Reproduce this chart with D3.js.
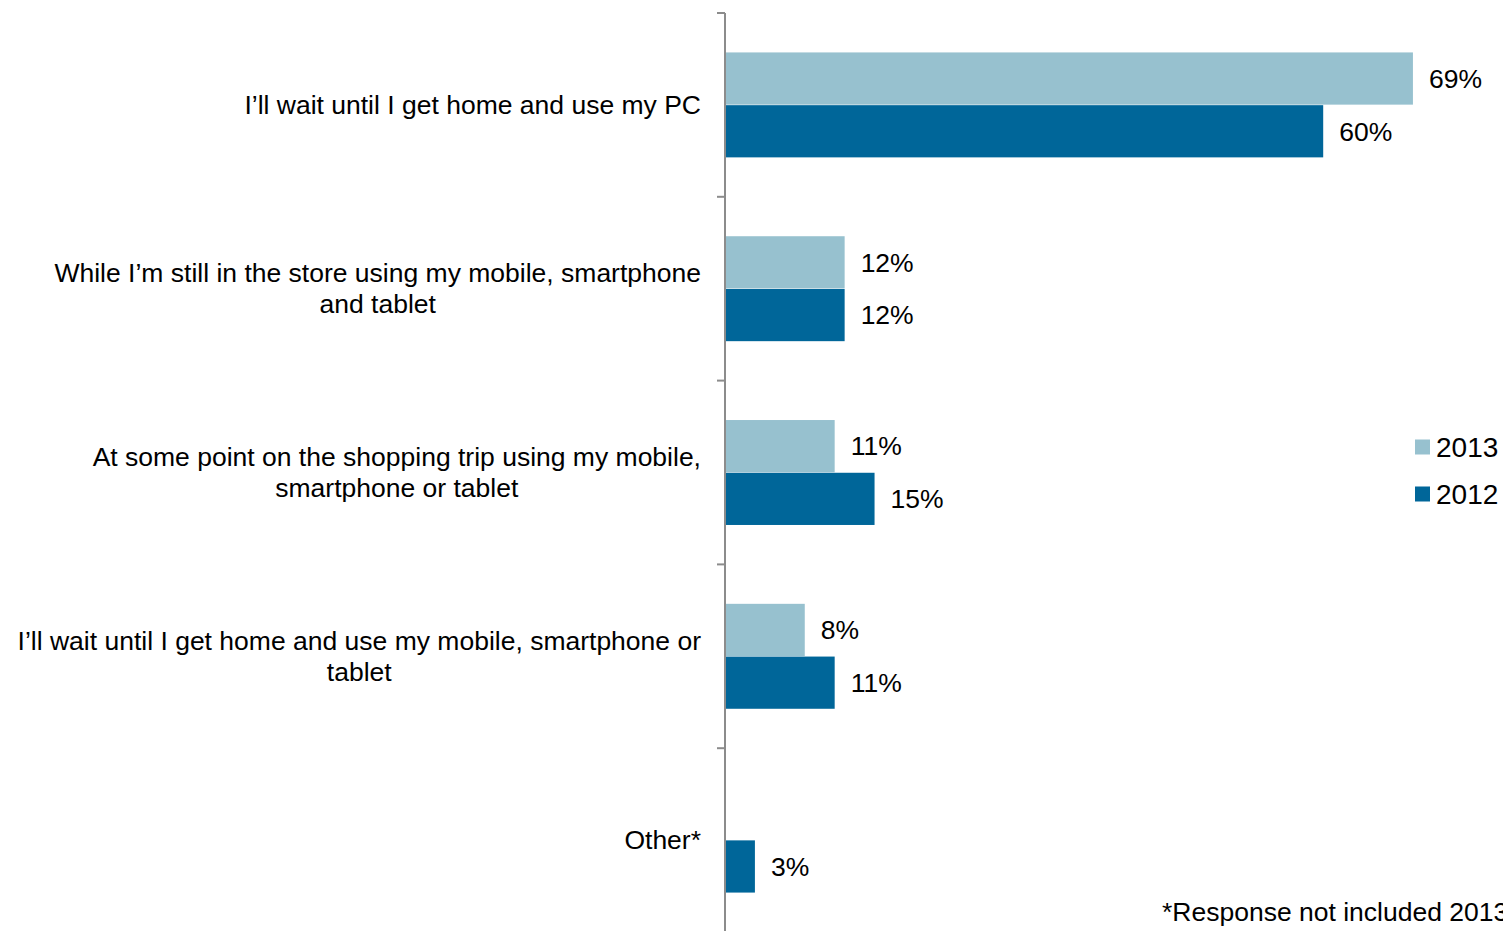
<!DOCTYPE html>
<html>
<head>
<meta charset="utf-8">
<script src="https://cdn.jsdelivr.net/npm/d3@7"></script>
<style>
  html, body { margin: 0; padding: 0; background: #fff; overflow: hidden; }
  svg { display: block; font-family: "Liberation Sans", Arial, sans-serif; }
</style>
</head>
<body>
<svg id="chart" width="1503" height="931"></svg>
<script>
// Survey responses by year
const categories = [
  ["I\u2019ll wait until I get home and use my PC"],
  ["While I\u2019m still in the store using my mobile, smartphone", "and tablet"],
  ["At some point on the shopping trip using my mobile,", "smartphone or tablet"],
  ["I\u2019ll wait until I get home and use my mobile, smartphone or", "tablet"],
  ["Other*"]
];
const seriesNames = ["2013", "2012"];
const values2013 = [69, 12, 11, 8, null];
const values2012 = [60, 12, 15, 11, 3];
const footnote = "*Response not included 2013";

const colors = { "2013": "#97c1cf", "2012": "#006699" };
const series = { "2013": values2013, "2012": values2012 };

const svg = d3.select("#chart");
const axisX = 725;

const y = d3.scaleBand()
  .domain(d3.range(categories.length))
  .range([13, 932])
  .paddingInner(0)
  .paddingOuter(0);

const ySub = d3.scaleBand()
  .domain(seriesNames)
  .range([y.bandwidth() / 2 - 53, y.bandwidth() / 2 + 53])
  .padding(0.01);

const x = d3.scaleLinear().domain([0, 70]).range([axisX, axisX + 70 * 9.97]);

// Bars
const groups = svg.append("g").selectAll("g")
  .data(categories.map((c, i) => i))
  .join("g")
  .attr("transform", i => `translate(0,${y(i)})`);

seriesNames.forEach(name => {
  groups.filter(i => series[name][i] != null)
    .append("rect")
    .attr("x", x(0))
    .attr("y", ySub(name))
    .attr("width", i => x(series[name][i]) - x(0))
    .attr("height", ySub.bandwidth())
    .attr("fill", colors[name]);

  groups.filter(i => series[name][i] != null)
    .append("text")
    .attr("x", i => x(series[name][i]) + 16)
    .attr("y", ySub(name) + ySub.bandwidth() / 2)
    .attr("dy", "0.35em")
    .attr("font-size", 26.5)
    .attr("fill", "#000")
    .text(i => series[name][i] + "%");
});

// Category axis
const axis = svg.append("g");
axis.append("line")
  .attr("x1", axisX).attr("x2", axisX)
  .attr("y1", y.range()[0]).attr("y2", y.range()[1])
  .attr("stroke", "#8c8c8c").attr("stroke-width", 2);
const tickYs = d3.range(categories.length + 1).map(i => y.range()[0] + i * y.step());
axis.selectAll(".tick").data(tickYs).join("line")
  .attr("x1", axisX - 8).attr("x2", axisX)
  .attr("y1", d => d).attr("y2", d => d)
  .attr("stroke", "#8c8c8c").attr("stroke-width", 2);

// Category labels: centered lines, block right-aligned to the axis
const lineH = 31;
categories.forEach((lines, i) => {
  const cy = y(i) + y.bandwidth() / 2;
  const t = svg.append("text")
    .attr("font-size", 26.5)
    .attr("fill", "#000")
    .attr("text-anchor", "middle");
  const spans = lines.map((ln, k) => t.append("tspan")
    .attr("y", cy + (k - (lines.length - 1) / 2) * lineH)
    .attr("dy", "0.35em")
    .text(ln));
  const maxW = d3.max(spans, s => s.node().getComputedTextLength());
  spans.forEach(s => s.attr("x", 701 - maxW / 2));
});

// Legend
const legend = svg.append("g");
seriesNames.forEach((name, k) => {
  const ly = 447 + k * 47;
  legend.append("rect")
    .attr("x", 1415).attr("y", ly - 7.5)
    .attr("width", 15).attr("height", 15)
    .attr("fill", colors[name]);
  legend.append("text")
    .attr("x", 1436).attr("y", ly)
    .attr("dy", "0.35em")
    .attr("font-size", 28)
    .text(name);
});

// Footnote
svg.append("text")
  .attr("x", 1162).attr("y", 921)
  .attr("font-size", 26.5)
  .text(footnote);
</script>
</body>
</html>
